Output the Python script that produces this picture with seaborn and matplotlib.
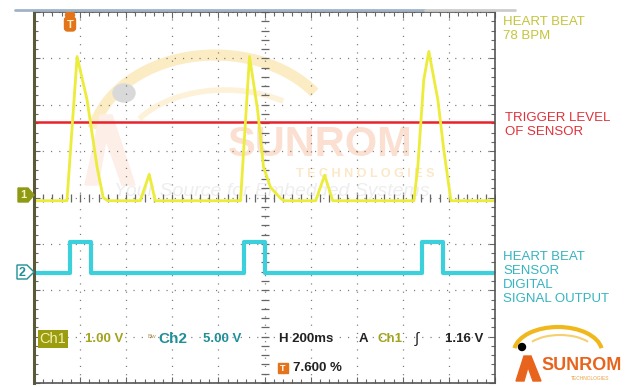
# =====================================================
# 0. IMPORTS
# =====================================================
import numpy as np
import pandas as pd
import matplotlib
matplotlib.use("Agg")
import matplotlib.pyplot as plt
import matplotlib.patches as patches
import seaborn as sns

# =====================================================
# 1. DATA
# =====================================================
# horizontal: 200 ms / div, 10 div -> 0..2000 ms
ch1_time_ms = [0, 143, 187, 230, 274, 300, 320, 461, 500, 526,
               896, 935, 970, 996, 1026, 1070, 1085, 1222, 1261, 1296,
               1648, 1665, 1691, 1713, 1752, 1778, 1809, 2000]
ch1_volts = [-0.07, -0.07, 3.04, 2.11, 0.65, 0.0, -0.07, -0.07, 0.50, -0.07,
             -0.07, 3.04, 1.89, 0.65, 0.22, -0.02, -0.07, -0.07, 0.48, -0.07,
             -0.07, 0.65, 2.54, 3.15, 2.11, 1.02, -0.07, -0.07]

ch2_time_ms = [0, 157, 157, 248, 248, 909, 909, 1004, 1004,
               1683, 1683, 1774, 1774, 2000]
ch2_volts = [0, 0, 3.35, 3.35, 0, 0, 3.35, 3.35, 0,
             0, 3.35, 3.35, 0, 0]

ch1_scale = 1.00      # V / div
ch2_scale = 5.00      # V / div
ch1_offset_div = 0.0
ch2_offset_div = -1.63
trigger_line_v = 1.63  # red line drawn on ch1

# =====================================================
# 2. STYLE
# =====================================================
sns.set_theme(style="white")
plt.rcParams["font.family"] = ["Liberation Sans", "DejaVu Sans"]

W, H = 625, 387
fig = plt.figure(figsize=(W / 100, H / 100), dpi=100)

def px(x0, y0, w, h):
    return [x0 / W, 1 - (y0 + h) / H, w / W, h / H]

YEL = "#ecec3a"
CYAN = "#3ccfdc"
OLIVE = "#a3a31c"
TEAL = "#1f8f98"

# background overlay (faint watermark)
bg = fig.add_axes([0, 0, 1, 1], zorder=0)
bg.set_xlim(0, W)
bg.set_ylim(H, 0)
bg.axis("off")

bg.add_patch(patches.Arc((215, 150), 250, 190, theta1=190, theta2=330,
                         color="#fcecc4", lw=8))
bg.add_patch(patches.Arc((225, 150), 200, 120, theta1=200, theta2=320,
                         color="#fdf1d8", lw=4))
bg.add_patch(patches.Polygon([(85, 185), (100, 115), (112, 115), (135, 185),
                              (122, 185), (106, 140), (98, 185)],
                             closed=True, color="#fdeee8"))
bg.add_patch(patches.Ellipse((124, 93), 22, 18, color="#d9d9d9"))
bg.text(320, 145, "SUNROM", fontsize=30, fontweight="bold",
        color="#fbe0d2", ha="center", va="center")
bg.text(365, 174, "T E C H N O L O G I E S", fontsize=9, fontweight="bold",
        color="#fbe8c8", ha="center", va="center")
bg.text(272, 191, "Your Source for Embedded Systems", fontsize=14,
        fontstyle="italic", color="#eeeeee", ha="center", va="center")

# =====================================================
# 3. SCOPE GRATICULE
# =====================================================
ax = fig.add_axes(px(34, 12, 461, 371), zorder=1)
ax.set_facecolor("none")
ax.set_xlim(0, 2000)
ax.set_ylim(-4, 4)

ax.set_xticks(np.arange(0, 2001, 200))
ax.set_xticks(np.arange(0, 2001, 40), minor=True)
ax.set_yticks(np.arange(-4, 4.1, 1))
ax.set_yticks(np.arange(-4, 4.01, 0.2), minor=True)
ax.tick_params(which="both", direction="in", top=True, right=True,
               bottom=True, left=True, labelleft=False, labelbottom=False,
               color="#666666")
ax.tick_params(which="major", length=4, width=0.8)
ax.tick_params(which="minor", length=3, width=0.8)
ax.grid(which="major", color="#777777", lw=0.9, linestyle=(0, (0.9, 5.7)))

for side in ["top", "right", "bottom"]:
    ax.spines[side].set_color("#555555")
    ax.spines[side].set_linewidth(1.2)
ax.spines["left"].set_color("#5a5a3a")
ax.spines["left"].set_linewidth(2.2)

# centre cross with small ticks
cy = np.arange(-4, 4.01, 0.2)
cx = np.arange(0, 2001, 40)
ax.plot(np.full(len(cy), 1000), cy, ls="none", marker="_", ms=6,
        color="#666666", mew=0.9)
ax.plot(cx, np.zeros(len(cx)), ls="none", marker="|", ms=6,
        color="#666666", mew=0.9)

# =====================================================
# 4. TRACES
# =====================================================
df1 = pd.DataFrame({"t": ch1_time_ms,
                    "div": np.array(ch1_volts) / ch1_scale + ch1_offset_div})
df2 = pd.DataFrame({"t": ch2_time_ms,
                    "div": np.array(ch2_volts) / ch2_scale + ch2_offset_div})

ax.axhline(trigger_line_v / ch1_scale + ch1_offset_div, color="#e8222a", lw=1.8)
sns.lineplot(data=df1, x="t", y="div", sort=False, estimator=None,
             color=YEL, lw=2.0, ax=ax)
sns.lineplot(data=df2, x="t", y="div", sort=False, estimator=None,
             color=CYAN, lw=3.0, ax=ax)
ax.set_xlabel("")
ax.set_ylabel("")

# =====================================================
# 5. SCREEN READOUTS / MARKERS
# =====================================================
fg = fig.add_axes([0, 0, 1, 1], zorder=2)
fg.set_xlim(0, W)
fg.set_ylim(H, 0)
fg.axis("off")

fg.plot([15, 425], [10, 10], color="#9fb3c6", lw=2)
fg.plot([425, 515], [10, 10], color="#cccccc", lw=2)

# channel ground markers
fg.add_patch(patches.Polygon([(18, 188), (28, 188), (34, 195), (28, 202), (18, 202)],
                             closed=True, color="#8f9a14"))
fg.text(23, 195.5, "1", fontsize=8, fontweight="bold", color="#f4f4c0",
        ha="center", va="center")
fg.add_patch(patches.Polygon([(17, 265), (27, 265), (34, 272), (27, 279), (17, 279)],
                             closed=True, facecolor="white", edgecolor=TEAL, lw=1))
fg.text(22.5, 272.5, "2", fontsize=9, fontweight="bold", color=TEAL,
        ha="center", va="center")

# trigger position marker
fg.add_patch(patches.Ellipse((70, 15), 9, 7, color="#e4741c"))
fg.add_patch(patches.FancyBboxPatch((64.5, 17), 11, 14,
                                    boxstyle="round,pad=0,rounding_size=3",
                                    color="#e4741c"))
fg.text(70, 24.5, "T", fontsize=8, fontweight="bold", color="#fff2c0",
        ha="center", va="center")

# bottom readout
fg.text(53, 339, "Ch1", fontsize=10.5, color="#f2f2b0", ha="center", va="center",
        bbox=dict(boxstyle="square,pad=0.12", fc="#9c9c10", ec="none"))
fg.text(85, 339, "1.00 V", fontsize=9.5, fontweight="bold", color=OLIVE,
        ha="left", va="center")
fg.text(152, 336, "Bw", fontsize=4.5, color="#b09050", ha="center", va="center")
fg.text(158, 339, "Ch2", fontsize=11, fontweight="bold", color=TEAL,
        ha="left", va="center")
fg.text(203, 339, "5.00 V", fontsize=9.5, fontweight="bold", color=TEAL,
        ha="left", va="center")

fg.text(279, 339, "H 200ms", fontsize=9.5, fontweight="bold", color="#222222",
        ha="left", va="center")
fg.text(359, 339, "A", fontsize=9.5, fontweight="bold", color="#222222",
        ha="left", va="center")
fg.text(377, 339, "Ch1", fontsize=9.5, fontweight="bold", color=OLIVE,
        ha="left", va="center")
fg.text(417, 339, "\u222B", fontsize=11, color="#222222", ha="center", va="center")
fg.text(445, 339, "1.16 V", fontsize=9.5, fontweight="bold", color="#222222",
        ha="left", va="center")

fg.add_patch(patches.Rectangle((278, 363), 10, 10, color="#e4741c"))
fg.text(283, 368.5, "T", fontsize=6.5, fontweight="bold", color="white",
        ha="center", va="center")
fg.text(293, 368, "7.600 %", fontsize=9.5, fontweight="bold", color="#222222",
        ha="left", va="center")

# =====================================================
# 6. ANNOTATIONS ON THE RIGHT
# =====================================================
fg.text(503, 29, "HEART BEAT\n78 BPM", fontsize=9.5, color="#c4c43c",
        ha="left", va="center", linespacing=1.25)
fg.text(505, 125, "TRIGGER LEVEL\nOF SENSOR", fontsize=9.5, color="#e0303a",
        ha="left", va="center", linespacing=1.25)
fg.text(503, 278, "HEART BEAT\nSENSOR\nDIGITAL\nSIGNAL OUTPUT", fontsize=9.5,
        color="#34b4c0", ha="left", va="center", linespacing=1.25)

# logo
fg.add_patch(patches.Arc((558, 352), 88, 50, theta1=185, theta2=355,
                         color="#f0b81c", lw=3))
fg.add_patch(patches.Arc((560, 352), 70, 34, theta1=200, theta2=340,
                         color="#f6d070", lw=1.5))
fg.add_patch(patches.Ellipse((522, 347), 7, 7, color="black"))
fg.add_patch(patches.Polygon([(516, 381), (524, 356), (531, 356), (541, 381),
                              (533, 381), (528, 367), (524, 381)],
                             closed=True, color="#e8641c"))
fg.text(582, 366, "SUNROM", fontsize=13, fontweight="bold", color="#e8641c",
        ha="center", va="center")
fg.text(590, 379, "TECHNOLOGIES", fontsize=3.5, color="#e8a040",
        ha="center", va="center")

fig.savefig("out.png", dpi=100)
print("saved out.png")
